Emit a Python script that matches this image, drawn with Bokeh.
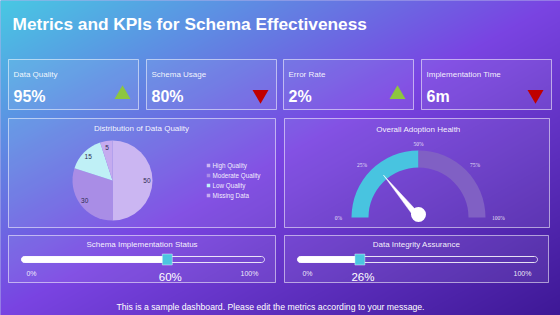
import numpy as np
from bokeh.plotting import figure
from bokeh.models import Range1d
from bokeh.core.properties import value
from bokeh.embed import file_html
from bokeh.resources import INLINE

W, H = 560, 315
FONT = "Liberation Sans"

# ---- dashboard content ----
title = "Metrics and KPIs for Schema Effectiveness"

kpi_labels = ["Data Quality", "Schema Usage", "Error Rate", "Implementation Time"]
kpi_values = ["95%", "80%", "2%", "6m"]
kpi_trend = ["up", "down", "up", "down"]

quality_title = "Distribution of Data Quality"
quality_categories = ["High Quality", "Moderate Quality", "Low Quality", "Missing Data"]
quality_values = [50, 30, 15, 5]
quality_colors = ["#cbb6f2", "#a98de6", "#bff0f6", "#c5abef"]

gauge_title = "Overall Adoption Health"
gauge_ticks = [0, 25, 50, 75, 100]
gauge_band = 50
gauge_needle = 28

progress_titles = ["Schema Implementation Status", "Data Integrity Assurance"]
progress_values = [60, 26]

footer = "This is a sample dashboard. Please edit the metrics according to your message."


def Y(y):
    """Convert a top-down page coordinate into the plot's y axis."""
    return H - y


p = figure(width=W, height=H, x_range=Range1d(0, W), y_range=Range1d(0, H),
           output_backend="svg", toolbar_location=None, min_border=0,
           x_axis_location=None, y_axis_location=None)
p.grid.visible = False
p.outline_line_color = None
p.background_fill_color = "#6a62d8"
p.border_fill_color = "#6a62d8"

# ---- diagonal gradient background (drawn slightly past the frame edges) ----
stops_t = np.array([0.0, 0.5, 1.0])
stops_c = np.array([[72, 201, 228], [122, 68, 226], [62, 24, 150]], dtype=float)
GW, GH = W + 4, H + 4
xx, yy = np.meshgrid(np.arange(GW) - 1.5, np.arange(GH) - 1.5)
t = np.clip((xx / W + (H - yy) / H) / 2.0, 0, 1)
img = np.empty((GH, GW), dtype=np.uint32)
view = img.view(dtype=np.uint8).reshape((GH, GW, 4))
for k in range(3):
    view[:, :, k] = np.interp(t, stops_t, stops_c[:, k]).astype(np.uint8)
view[:, :, 3] = 255
p.image_rgba(image=[img], x=-2, y=-2, dw=GW, dh=GH)


def panel(l, r, top, bottom):
    p.quad(left=[l], right=[r], top=[Y(top)], bottom=[Y(bottom)],
           fill_color="white", fill_alpha=0.08,
           line_color="white", line_alpha=0.55, line_width=1)


def label(x, y, txt, size, align="center", color="white", alpha=1.0,
          style="normal", font=FONT):
    p.text(x=[x], y=[Y(y)], text=[txt], text_font=value(font),
           text_font_size=size, text_color=color, text_alpha=alpha,
           text_align=align, text_baseline="middle", text_font_style=style)


# ---- title ----
label(12, 23, title, "17.3px", align="left", style="bold")

# ---- KPI cards ----
card_left = [8, 146, 283, 421]
card_w = 130
for i, lft in enumerate(card_left):
    panel(lft, lft + card_w, 59, 109)
    label(lft + 5, 74, kpi_labels[i], "8px", align="left", alpha=0.92)
    label(lft + 5, 96, kpi_values[i], "16px", align="left", style="bold")
    up = kpi_trend[i] == "up"
    p.scatter(x=[lft + card_w - 16], y=[Y(94)],
              marker="triangle" if up else "inverted_triangle", size=16,
              fill_color="#8dc63f" if up else "#c00000", line_color=None)

# ---- pie: distribution of data quality ----
panel(8, 275, 118, 227)
label(141, 128, quality_title, "8px", alpha=0.95)
pcx, pcy, pr = 112, Y(180), 40
total = float(sum(quality_values))
cum = np.concatenate([[0], np.cumsum(quality_values)]) / total
starts = np.pi / 2 - 2 * np.pi * cum[:-1]
ends = np.pi / 2 - 2 * np.pi * cum[1:]
p.wedge(x=pcx, y=pcy, radius=pr, start_angle=starts, end_angle=ends,
        direction="clock", fill_color=quality_colors, line_color=None)
mids = (starts + ends) / 2
p.text(x=pcx + 0.86 * pr * np.cos(mids), y=pcy + 0.84 * pr * np.sin(mids),
       text=[str(v) for v in quality_values], text_font=value(FONT),
       text_font_size="6.5px", text_color="#2e2a50",
       text_align="center", text_baseline="middle")
for i, cat in enumerate(quality_categories):
    yy_ = 165 + 10 * i
    p.scatter(x=[208], y=[Y(yy_)], marker="square", size=3.5,
              fill_color=quality_colors[i], line_color=None)
    label(212, yy_, cat, "6.3px", align="left", alpha=0.92)

# ---- gauge: overall adoption health ----
panel(284, 549, 118, 227)
label(418, 129, gauge_title, "8px", alpha=0.95)
gcx, gcy = 418, Y(217)
band_end = np.pi * (1 - gauge_band / 100)
p.annular_wedge(x=gcx, y=gcy, inner_radius=50, outer_radius=67,
                start_angle=np.pi, end_angle=band_end, direction="clock",
                fill_color="#48c4e0", line_color=None)
p.annular_wedge(x=gcx, y=gcy, inner_radius=50, outer_radius=67,
                start_angle=band_end, end_angle=0, direction="clock",
                fill_color="#8060c4", line_color=None)
tick_ang = np.pi * (1 - np.array(gauge_ticks) / 100)
p.text(x=gcx + 80 * np.cos(tick_ang), y=gcy + 74 * np.sin(tick_ang),
       text=[f"{v}%" for v in gauge_ticks], text_font=value("Liberation Serif"),
       text_font_size="5.5px", text_color="white", text_alpha=0.85,
       text_align="center", text_baseline="middle")
a = np.pi * (1 - gauge_needle / 100)
L, hw = 55, 3.2
p.patch(x=[gcx + L * np.cos(a), gcx + hw * np.sin(a), gcx - hw * np.sin(a)],
        y=[gcy + L * np.sin(a), gcy - hw * np.cos(a), gcy + hw * np.cos(a)],
        fill_color="white", line_color="white", line_width=0.5)
p.circle(x=[gcx], y=[gcy + 3], radius=7.5, fill_color="white", line_color=None)


# ---- progress bars ----
def capsule(x0, x1, yc, r, n=24):
    ang_r = np.linspace(np.pi / 2, -np.pi / 2, n)
    ang_l = np.linspace(-np.pi / 2, -3 * np.pi / 2, n)
    xs = np.concatenate([x1 - r + r * np.cos(ang_r), x0 + r + r * np.cos(ang_l)])
    ys = np.concatenate([yc + r * np.sin(ang_r), yc + r * np.sin(ang_l)])
    return xs, ys


prog_panels = [(8, 275), (284, 548)]
for i, (pl, prr) in enumerate(prog_panels):
    panel(pl, prr, 235, 282)
    cx_mid = (pl + prr) / 2
    label(cx_mid, 244, progress_titles[i], "8px", alpha=0.95)
    x0, x1, yc = pl + 13, prr - 11, Y(259)
    xs, ys = capsule(x0, x1, yc, 3)
    p.patch(x=xs, y=ys, fill_alpha=0, line_color="white", line_alpha=0.85,
            line_width=1)
    xv = x0 + (x1 - x0) * progress_values[i] / 100
    xs, ys = capsule(x0, xv, yc, 3)
    p.patch(x=xs, y=ys, fill_color="white", line_color="white", line_width=0.5)
    p.rect(x=[xv], y=[yc], width=10, height=11, fill_color="#4cc6e0",
           line_color="white", line_alpha=0.5, line_width=0.8)
    label(x0 + 10, 273, "0%", "7px", alpha=0.9)
    label(x1 - 15, 273, "100%", "7px", alpha=0.9)
    label(xv + 3, 276, f"{progress_values[i]}%", "11.5px")

# ---- footer ----
label(270, 306, footer, "8.7px")

html = file_html(p, INLINE)
# page backdrop in the same tone as the dashboard edge
html = html.replace("<body>", '<body style="margin:0;background:#5f8fe2">', 1)
open("out.html", "w").write(html)
